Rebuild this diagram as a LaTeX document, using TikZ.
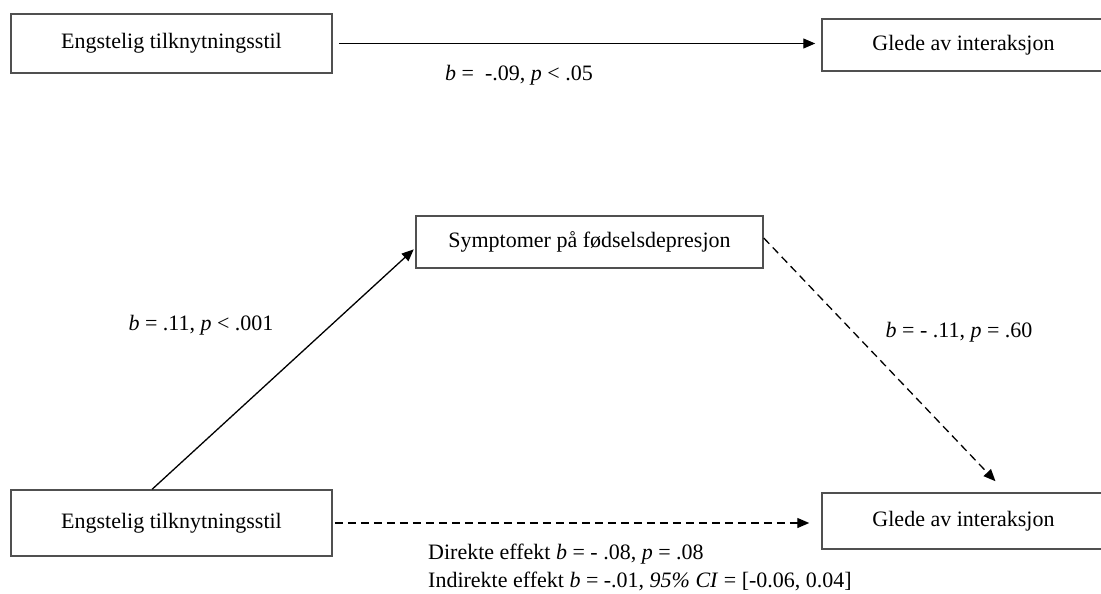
\documentclass[tikz,border=0pt]{standalone}
\usepackage{fontspec}
\setmainfont{Liberation Serif}
\usetikzlibrary{arrows.meta,calc}
\definecolor{boxgray}{HTML}{505050}
\begin{document}
\begin{tikzpicture}[x=1pt,y=-1pt,
  box/.style={draw=boxgray, line width=1.5pt, inner sep=0pt, fill=white,
              font=\fontsize{22}{26}\selectfont},
  lab/.style={inner sep=0pt, font=\fontsize{22}{26}\selectfont},
  arr/.style={line width=1.3pt, -{Triangle[length=12pt,width=10pt]}},
  dsh/.style={dash pattern=on 8pt off 5pt}
]
\useasboundingbox (0,0) rectangle (1101,594);

% boxes
\node[box, minimum width=321pt, minimum height=59pt] (A1) at (171.5,43.5) {Engstelig tilknytningsstil};
\node[box, minimum width=283pt, minimum height=52pt] (B1) at (963.5,45) {Glede av interaksjon};
\node[box, minimum width=347pt, minimum height=52pt] (M)  at (589.5,242) {Symptomer på fødselsdepresjon};
\node[box, minimum width=321pt, minimum height=66pt] (A2) at (171.5,523) {Engstelig tilknytningsstil};
\node[box, minimum width=283pt, minimum height=56pt] (B2) at (963.5,521) {Glede av interaksjon};

% connectors
\draw[arr, shorten <=6pt, shorten >=6pt] (A1.east) -- (B1.west |- A1.east);
\draw[arr, shorten >=2pt] ($(A2.north west)!0.44!(A2.north east)$) -- ([yshift=-6pt]M.west);
\draw[arr, dsh] ([yshift=4pt]M.east) -- ([xshift=32pt,yshift=11pt]B2.north);
\draw[arr, dsh, shorten <=2pt, shorten >=12pt] (A2.east) -- (A2.east -| B2.west);

% labels
\node[lab] (L1) at (519,75) {\textit{b} =\ \ -.09, \textit{p} < .05};
\node[lab] (L2) at (201,325) {\textit{b} = .11, \textit{p} < .001};
\node[lab] (L3) at (959,332) {\textit{b} = - .11, \textit{p} = .60};
\node[lab, anchor=west] (L4) at (428,554) {Direkte effekt \textit{b} = - .08, \textit{p} = .08};
\node[lab, anchor=west] (L5) at (428,581) {Indirekte effekt \textit{b} = -.01, \textit{95\% CI} = [-0.06, 0.04]};
\end{tikzpicture}
\end{document}
